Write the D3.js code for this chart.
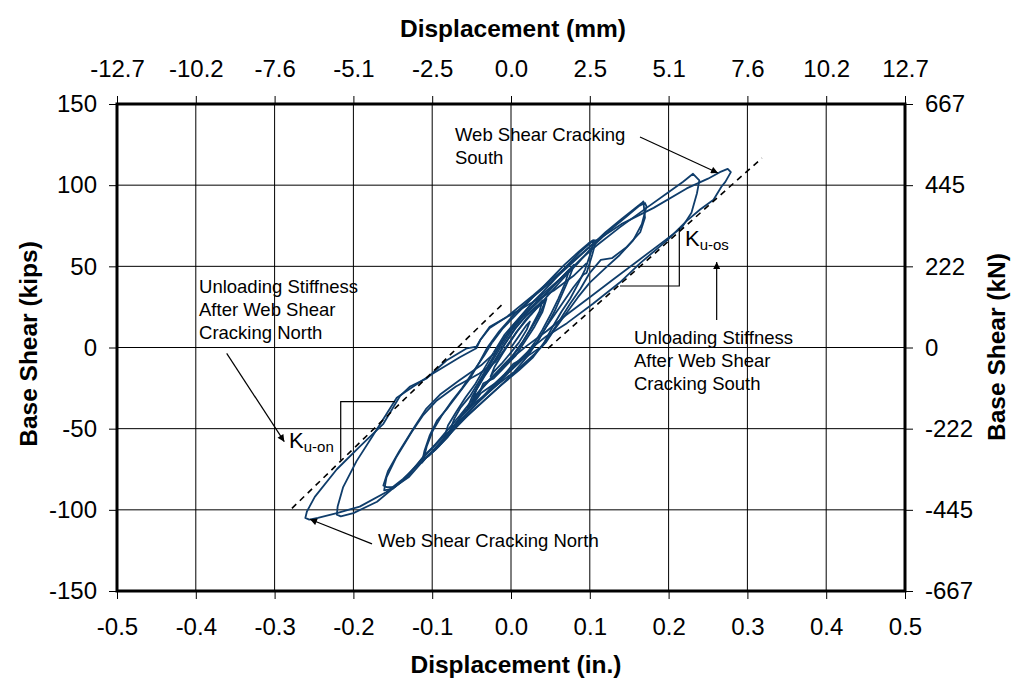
<!DOCTYPE html>
<html lang="en">
<head>
<meta charset="utf-8">
<title>Base Shear vs Displacement</title>
<script src="https://cdn.jsdelivr.net/npm/d3@7"></script>
<style>
  * { margin:0; padding:0; }
  body { background:#fff; width:1012px; height:679px; overflow:hidden; font-family:"Liberation Sans", Arial, sans-serif; }
  svg text { fill:#000; }
  .axis text { font-size:24px; font-family:"Liberation Sans", Arial, sans-serif; }
  .axis path { display:none; }
  .axis line { stroke:#000; stroke-width:1; }
  .title { font-size:24.5px; font-weight:bold; }
  .note { font-size:18.5px; }
  .grid line { stroke:#000; stroke-width:1; }
  .loop { fill:none; stroke:#0f3d6b; stroke-width:1.8; stroke-linejoin:round; }
  .stiff { fill:none; stroke:#000; stroke-width:1.6; stroke-dasharray:6 5; }
  .guide { fill:none; stroke:#000; stroke-width:1.2; }
</style>
</head>
<body>
<svg id="chart" width="1012" height="679"></svg>
<script>
// axis ticks
const xTicks = [-0.5, -0.4, -0.3, -0.2, -0.1, 0, 0.1, 0.2, 0.3, 0.4, 0.5];
const inLabels = ['-0.5', '-0.4', '-0.3', '-0.2', '-0.1', '0.0', '0.1', '0.2', '0.3', '0.4', '0.5'];
const mmLabels = ['-12.7', '-10.2', '-7.6', '-5.1', '-2.5', '0.0', '2.5', '5.1', '7.6', '10.2', '12.7'];
const yTicks = [-150, -100, -50, 0, 50, 100, 150];
const kipLabels = ['-150', '-100', '-50', '0', '50', '100', '150'];
const kNLabels = ['-667', '-445', '-222', '0', '222', '445', '667'];

// hysteresis cycles, [displacement (in.), base shear (kips)]
const cycle1 = [[0,0],[0.01,7],[0.02,14],[0.024,16],[0.02,11],[0.01,3],[0.0,-3],[-0.012,-10],[-0.022,-15],[-0.026,-18],[-0.021,-12],[-0.011,-4],[-0.003,2]];
const cycle2 = [[-0.003,2],[0.008,10],[0.02,18],[0.032,24],[0.041,28],[0.043,28],[0.037,21],[0.026,12],[0.014,3],[0.002,-5],[-0.012,-12],[-0.025,-19],[-0.038,-26],[-0.046,-31],[-0.049,-33],[-0.044,-26],[-0.034,-18],[-0.02,-8],[-0.008,2]];
const cycle2b = [[-0.008,2],[0.006,12],[0.02,20],[0.034,26],[0.04,29],[0.036,22],[0.024,11],[0.012,1],[-0.002,-8],[-0.018,-16],[-0.032,-22],[-0.044,-29],[-0.05,-35],[-0.045,-27],[-0.036,-19],[-0.022,-9],[-0.008,2]];
const cycle3 = [[-0.008,2],[0.004,11],[0.018,19],[0.03,24],[0.038,27],[0.045,30],[0.04,22],[0.03,13],[0.018,4],[0.006,-5],[-0.01,-13],[-0.022,-19],[-0.035,-22],[-0.042,-30],[-0.052,-36],[-0.055,-37],[-0.049,-30],[-0.04,-22],[-0.026,-10],[-0.012,1]];
const cycle4 = [[-0.012,1],[0.0,10],[0.015,19],[0.03,26],[0.045,33],[0.06,41],[0.07,46],[0.074,48],[0.069,40],[0.06,30],[0.05,20],[0.04,11],[0.03,3],[0.018,-5],[0.0,-14],[-0.02,-22],[-0.038,-28],[-0.05,-36],[-0.062,-42],[-0.074,-49],[-0.078,-52],[-0.072,-44],[-0.064,-37],[-0.052,-30],[-0.042,-22],[-0.03,-12],[-0.018,-2]];
const cycle5 = [[-0.018,-2],[-0.005,8],[0.012,18],[0.03,27],[0.048,35],[0.064,43],[0.076,49],[0.08,51],[0.074,43],[0.065,33],[0.055,22],[0.045,13],[0.034,4],[0.02,-6],[0.004,-15],[-0.015,-22],[-0.035,-30],[-0.048,-35],[-0.058,-39],[-0.066,-44],[-0.078,-52],[-0.085,-56],[-0.08,-48],[-0.07,-40],[-0.058,-31],[-0.046,-23],[-0.034,-13],[-0.022,-3]];
const cycle6 = [[-0.022,-3],[-0.008,8],[0.01,18],[0.03,29],[0.05,39],[0.07,50],[0.088,59],[0.1,64],[0.105,66],[0.101,58],[0.094,48],[0.085,39],[0.075,30],[0.064,22],[0.052,12],[0.042,3],[0.028,-6],[0.01,-14],[-0.012,-23],[-0.035,-33],[-0.055,-42],[-0.075,-52],[-0.092,-61],[-0.105,-67],[-0.111,-69],[-0.107,-61],[-0.099,-51],[-0.088,-42],[-0.075,-33],[-0.062,-25],[-0.048,-15],[-0.034,-5],[-0.024,3]];
const cycle7 = [[-0.024,3],[-0.01,12],[0.008,21],[0.028,31],[0.048,41],[0.068,51],[0.086,59],[0.098,64],[0.104,66],[0.108,66],[0.103,57],[0.096,46],[0.092,45],[0.079,37],[0.062,25],[0.045,13],[0.033,3],[0.02,-5],[0.0,-14],[-0.02,-24],[-0.042,-34],[-0.062,-44],[-0.08,-55],[-0.096,-63],[-0.108,-68],[-0.113,-71],[-0.11,-64],[-0.103,-54],[-0.094,-45],[-0.08,-37],[-0.066,-28],[-0.052,-19],[-0.04,-9],[-0.03,0]];
const cycle8 = [[-0.03,0],[-0.015,10],[0.005,21],[0.025,30],[0.05,40],[0.075,51],[0.1,62],[0.12,71],[0.14,79],[0.158,86],[0.166,89],[0.168,90],[0.17,80],[0.164,71],[0.147,62],[0.128,55],[0.114,54],[0.1,46],[0.088,36],[0.075,27],[0.062,17],[0.05,8],[0.04,1],[0.022,-5],[0.003,-10],[-0.014,-20],[-0.039,-32],[-0.069,-47],[-0.09,-57],[-0.111,-67],[-0.132,-80],[-0.15,-87],[-0.161,-88],[-0.158,-80],[-0.146,-68],[-0.126,-52],[-0.112,-42],[-0.095,-33],[-0.07,-24],[-0.04,-16],[-0.02,-9],[-0.008,-1]];
const cycle9 = [[-0.008,-1],[0.006,9],[0.025,20],[0.045,31],[0.065,42],[0.085,52],[0.105,63],[0.125,72],[0.145,80],[0.162,87],[0.17,89],[0.172,87],[0.166,76],[0.155,66],[0.138,57],[0.12,49],[0.1,40],[0.085,31],[0.07,21],[0.055,11],[0.044,3],[0.03,-4],[0.012,-12],[-0.01,-22],[-0.035,-33],[-0.062,-45],[-0.085,-56],[-0.11,-69],[-0.13,-80],[-0.148,-86],[-0.158,-86],[-0.162,-85],[-0.156,-76],[-0.142,-64],[-0.124,-50],[-0.108,-38],[-0.09,-29],[-0.065,-20],[-0.038,-11],[-0.02,-3],[-0.01,5]];
const cycle10 = [[-0.01,5],[0.005,15],[0.028,28],[0.05,37],[0.071,46],[0.09,55],[0.109,63],[0.138,74],[0.172,86],[0.198,95],[0.218,102],[0.231,107],[0.239,103],[0.236,95],[0.229,83],[0.217,74],[0.19,64],[0.16,53],[0.13,42],[0.1,31],[0.07,20],[0.045,10],[0.02,1],[0.0,-7],[-0.03,-21],[-0.065,-42],[-0.1,-62],[-0.138,-82],[-0.17,-95],[-0.2,-102],[-0.216,-104],[-0.221,-103],[-0.22,-98],[-0.213,-86],[-0.196,-70],[-0.175,-54],[-0.158,-41],[-0.145,-31],[-0.124,-24],[-0.099,-16],[-0.065,-6],[-0.044,-0.5],[-0.039,4.6],[-0.027,12],[-0.005,19]];
const cycle11 = [[-0.005,19],[0.028,32],[0.071,50],[0.109,66],[0.14,76],[0.181,86],[0.223,98],[0.25,104],[0.265,108],[0.275,110],[0.279,108],[0.272,102],[0.267,99],[0.257,91],[0.24,85],[0.223,78],[0.198,66],[0.164,52],[0.138,40],[0.104,27],[0.071,15],[0.045,7],[0.028,0.5],[0.01,-8],[-0.02,-22],[-0.065,-46],[-0.099,-64],[-0.137,-81],[-0.158,-89],[-0.192,-98],[-0.221,-102],[-0.245,-105],[-0.256,-106],[-0.261,-105],[-0.259,-101],[-0.249,-92],[-0.221,-75],[-0.192,-61],[-0.162,-47],[-0.141,-30],[-0.128,-24],[-0.107,-19],[-0.082,-8],[-0.056,-0.5],[-0.044,0.5],[-0.039,4.6],[-0.027,12.8],[0.003,21],[0.024,27],[0.054,35],[0.079,44],[0.096,52]];
const cycles = [cycle1, cycle2, cycle2b, cycle3, cycle4, cycle5, cycle6, cycle7, cycle8, cycle9, cycle10, cycle11];

// unloading stiffness lines and their slope triangles
const kuOs = [[0.047,-0.5],[0.3185,116.7]];
const kuOn = [[-0.278,-99.1],[-0.0098,27.2]];
const triOs = [[0.1383,37.9],[0.2136,37.9],[0.2136,73.4]];
const triOn = [[-0.1472,-33.4],[-0.2161,-33.4],[-0.2161,-69.3]];

const m = { left:117, right:905, top:104, bottom:591 };
const svg = d3.select('#chart');

const x = d3.scaleLinear().domain([-0.5, 0.5]).range([m.left, m.right]);
const y = d3.scaleLinear().domain([-150, 150]).range([m.bottom, m.top]);

// ─── Grid ───
const grid = svg.append('g').attr('class', 'grid');
grid.selectAll('.gx').data(xTicks).join('line')
  .attr('x1', d => x(d)).attr('x2', d => x(d)).attr('y1', m.top).attr('y2', m.bottom);
grid.selectAll('.gy').data(yTicks).join('line')
  .attr('y1', d => y(d)).attr('y2', d => y(d)).attr('x1', m.left).attr('x2', m.right);

// ─── Axes ───
svg.append('g').attr('class', 'axis').attr('transform', `translate(0,${m.bottom})`)
  .call(d3.axisBottom(x).tickValues(xTicks).tickFormat((d, i) => inLabels[i]).tickSizeInner(8).tickSizeOuter(0).tickPadding(19));
svg.append('g').attr('class', 'axis').attr('transform', `translate(0,${m.top})`)
  .call(d3.axisTop(x).tickValues(xTicks).tickFormat((d, i) => mmLabels[i]).tickSizeInner(8).tickSizeOuter(0).tickPadding(19));
svg.append('g').attr('class', 'axis').attr('transform', `translate(${m.left},0)`)
  .call(d3.axisLeft(y).tickValues(yTicks).tickFormat((d, i) => kipLabels[i]).tickSizeInner(8).tickSizeOuter(0).tickPadding(12));
svg.append('g').attr('class', 'axis').attr('transform', `translate(${m.right},0)`)
  .call(d3.axisRight(y).tickValues(yTicks).tickFormat((d, i) => kNLabels[i]).tickSizeInner(8).tickSizeOuter(0).tickPadding(12));

// frame
svg.append('rect').attr('x', m.left).attr('y', m.top)
  .attr('width', m.right - m.left).attr('height', m.bottom - m.top)
  .attr('fill', 'none').attr('stroke', '#000').attr('stroke-width', 3);

// ─── Titles ───
svg.append('text').attr('class', 'title').attr('x', 513).attr('y', 37).attr('text-anchor', 'middle').text('Displacement (mm)');
svg.append('text').attr('class', 'title').attr('x', 516).attr('y', 673).attr('text-anchor', 'middle').text('Displacement (in.)');
svg.append('text').attr('class', 'title').attr('text-anchor', 'middle')
  .attr('transform', 'translate(37,344) rotate(-90)').text('Base Shear (kips)');
svg.append('text').attr('class', 'title').attr('text-anchor', 'middle')
  .attr('transform', 'translate(1005,347) rotate(-90)').text('Base Shear (kN)');

// ─── Curves ───
const line = d3.line().x(d => x(d[0])).y(d => y(d[1]));
svg.append('g').selectAll('path').data(cycles).join('path')
  .attr('class', 'loop').attr('d', line);

svg.selectAll('.stiffLine').data([kuOs, kuOn]).join('path')
  .attr('class', 'stiff').attr('d', line);
svg.selectAll('.tri').data([triOs, triOn]).join('path')
  .attr('class', 'guide').attr('d', line);

// ─── Annotations ───
const defs = svg.append('defs');
defs.append('marker').attr('id', 'arrow').attr('viewBox', '0 0 10 10')
  .attr('refX', 10).attr('refY', 5).attr('markerWidth', 9).attr('markerHeight', 7)
  .attr('markerUnits', 'userSpaceOnUse').attr('orient', 'auto')
  .append('path').attr('d', 'M0,0L10,5L0,10z').attr('fill', '#000');

const arrows = [
  [[0.1637,129.7],[0.2627,107.5]],
  [[0.261,16.9],[0.261,52.7]],
  [[-0.3608,-3.6],[-0.2877,-58.0]],
  [[-0.1764,-121],[-0.2551,-105.8]]
];
svg.selectAll('.arr').data(arrows).join('path')
  .attr('d', line).attr('fill', 'none').attr('stroke', '#000').attr('stroke-width', 1.2)
  .attr('marker-end', 'url(#arrow)');

const notes = [
  { at:[-0.0711,127.2], lines:['Web Shear Cracking', 'South'] },
  { at:[0.1561,2.0], lines:['Unloading Stiffness', 'After Web Shear', 'Cracking South'] },
  { at:[-0.3959,33.3], lines:['Unloading Stiffness', 'After Web Shear', 'Cracking North'] },
  { at:[-0.1688,-123.2], lines:['Web Shear Cracking North'] }
];
notes.forEach(n => {
  const t = svg.append('text').attr('class', 'note');
  n.lines.forEach((s, i) => {
    t.append('tspan').attr('x', x(n.at[0])).attr('y', y(n.at[1]) + i * 23).text(s);
  });
});

const kLabels = [
  { at:[0.2208,62.5], sub:'u-os' },
  { at:[-0.2817,-61.9], sub:'u-on' }
];
kLabels.forEach(k => {
  const t = svg.append('text').attr('x', x(k.at[0])).attr('y', y(k.at[1])).attr('font-size', 22);
  t.append('tspan').text('K');
  t.append('tspan').attr('font-size', 15).attr('dy', 4).text(k.sub);
});
</script>
</body>
</html>
